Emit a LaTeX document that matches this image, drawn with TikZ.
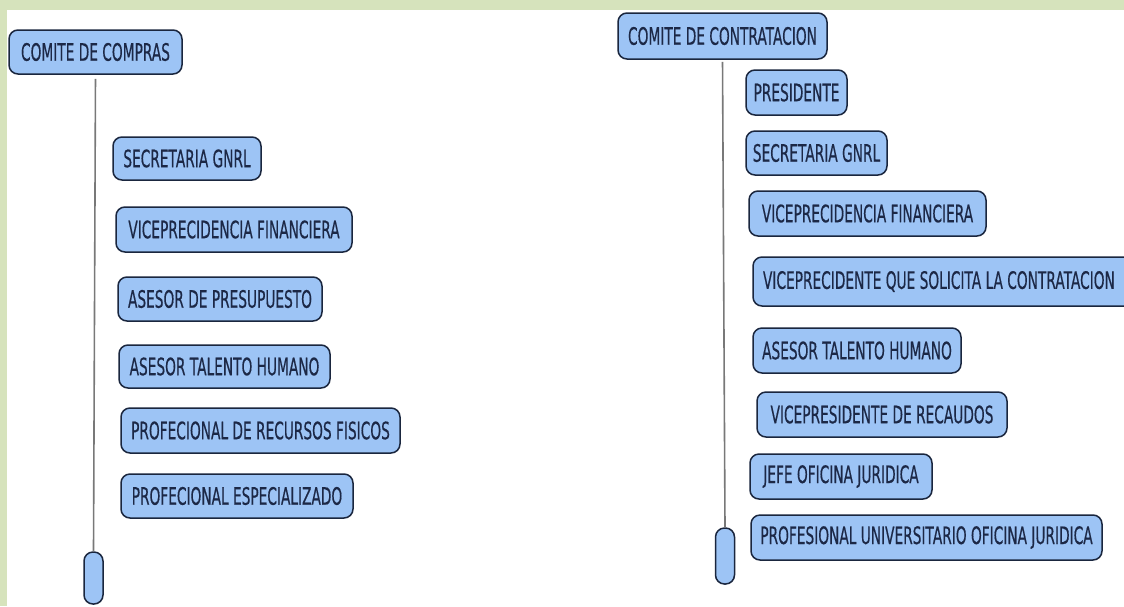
\documentclass[tikz,border=0pt]{standalone}
\usepackage{fontspec}
\setmainfont[FakeStretch=0.572,FakeBold=0.4]{DejaVu Sans}
\definecolor{bggreen}{RGB}{214,227,188}
\definecolor{boxfill}{RGB}{157,196,245}
\definecolor{boxline}{RGB}{26,38,62}
\definecolor{txt}{RGB}{28,40,70}
\definecolor{conn}{RGB}{120,120,120}
\begin{document}
\begin{tikzpicture}[x=1pt,y=-1pt,
  box/.style={draw=boxline, fill=boxfill, line width=1.5pt, rounded corners=9pt,
    inner sep=0pt, text=txt, font=\fontsize{24}{26}\selectfont},
  pill/.style={draw=boxline, fill=boxfill, line width=1.5pt, rounded corners=9pt,
    inner sep=0pt, minimum width=19pt},
  link/.style={draw=conn, line width=1.6pt}]
\useasboundingbox (0,0) rectangle (1124,606);
\fill[bggreen] (0,0) rectangle (1124,606);
\fill[white] (7,10) rectangle (1124,606);
% left tree
\node[box, minimum width=173pt, minimum height=44pt] (c1) at (95.5,52) {COMITE DE COMPRAS};
\node[box, minimum width=148pt, minimum height=43pt] (a1) at (187,158.5) {SECRETARIA GNRL};
\node[box, minimum width=236pt, minimum height=45pt] (a2) at (234,229.5) {VICEPRECIDENCIA FINANCIERA};
\node[box, minimum width=204pt, minimum height=44pt] (a3) at (220,299) {ASESOR DE PRESUPUESTO};
\node[box, minimum width=211pt, minimum height=43pt] (a4) at (224.5,366.5) {ASESOR TALENTO HUMANO};
\node[box, minimum width=279pt, minimum height=45pt] (a5) at (260.5,430.5) {PROFECIONAL DE RECURSOS FISICOS};
\node[box, minimum width=232pt, minimum height=44pt] (a6) at (237,496) {PROFECIONAL ESPECIALIZADO};
\node[pill, minimum height=52pt] (p1) at (93.5,578) {};
\draw[link, shorten <=4pt] (c1.south) -- (p1.north);
% right tree
\node[box, minimum width=209pt, minimum height=46pt] (c2) at (722.5,36) {COMITE DE CONTRATACION};
\node[box, minimum width=101pt, minimum height=45pt] (b1) at (796.5,92.5) {PRESIDENTE};
\node[box, minimum width=141pt, minimum height=44pt] (b2) at (816.5,153) {SECRETARIA GNRL};
\node[box, minimum width=237pt, minimum height=45pt] (b3) at (867.5,213.5) {VICEPRECIDENCIA FINANCIERA};
\node[box, minimum width=381pt, minimum height=49pt] (b4) at (943.5,281.5) {\makebox[361pt][l]{VICEPRECIDENTE QUE SOLICITA LA CONTRATACION}};
\node[box, minimum width=208pt, minimum height=45pt] (b5) at (857,350.5) {ASESOR TALENTO HUMANO};
\node[box, minimum width=250pt, minimum height=45pt] (b6) at (882,414.5) {VICEPRESIDENTE DE RECAUDOS};
\node[box, minimum width=182pt, minimum height=45pt] (b7) at (841,476.5) {JEFE OFICINA JURIDICA};
\node[box, minimum width=351pt, minimum height=45pt] (b8) at (926.5,537.5) {PROFESIONAL UNIVERSITARIO OFICINA JURIDICA};
\node[pill, minimum height=56pt] (p2) at (725,556) {};
\draw[link, shorten <=2pt] (c2.south) -- (p2.north);
\end{tikzpicture}
\end{document}
